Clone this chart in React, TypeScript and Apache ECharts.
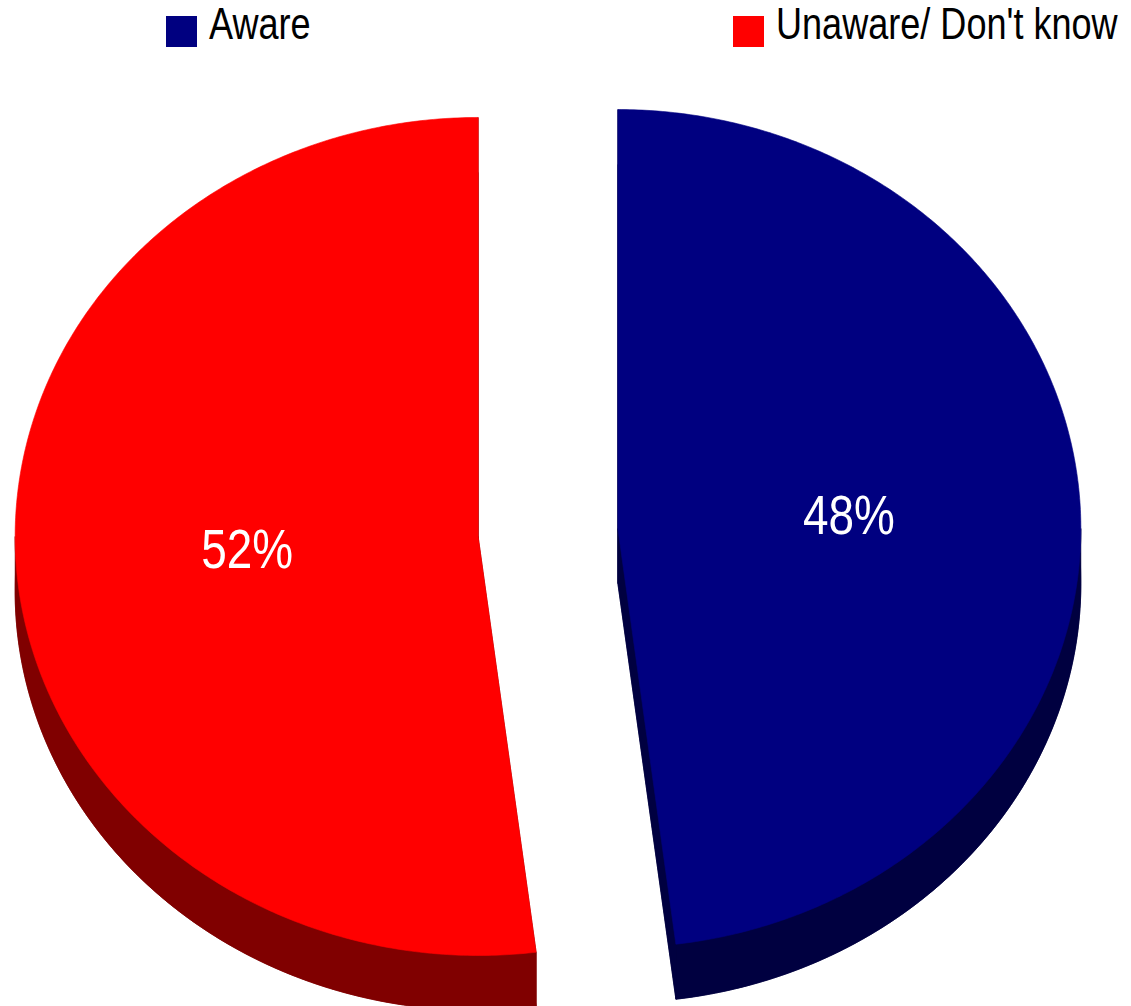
import { useEffect, useRef } from "react";
import * as echarts from "echarts";

const categories = ["Aware", "Unaware/ Don't know"];
const values = [48, 52];
const topColors = ["#000080", "#FF0000"];
const sideColors = ["#000040", "#800000"];

const FONT = "'Liberation Sans Narrow', 'Arial Narrow', 'Liberation Sans', Arial, sans-serif";
const NARROW = 0.82;

export default function App() {
  const ref = useRef<HTMLDivElement>(null);
  useEffect(() => {
    const chart = echarts.init(ref.current!, null, { renderer: "svg" });
    const total = values.reduce((a, b) => a + b, 0);
    const starts: number[] = [];
    let acc = 0;
    values.forEach((v) => {
      starts.push((acc / total) * 360);
      acc += v;
    });
    const CX = 548, CY = 532.5, RX = 463, RY = 419, DEPTH = 55, EXPLODE = 70;

    const makeRender = (i: number) => (_params: any, api: any) => {
      const v = api.value(0) as number;
      const a0 = starts[i];
      const a1 = a0 + (v / total) * 360;
      const mid = (((a0 + a1) / 2) * Math.PI) / 180;
      const k = RY / RX;
      const cx = CX + EXPLODE * Math.sin(mid);
      const cy = CY - EXPLODE * Math.cos(mid) * k;
      const pt = (deg: number, dy = 0, f = 1) => {
        const r = (deg * Math.PI) / 180;
        return [cx + f * RX * Math.sin(r), cy - f * RY * Math.cos(r) + dy];
      };
      const arc = (from: number, to: number, dy: number) => {
        const n = Math.max(2, Math.ceil(Math.abs(to - from) / 0.5));
        const out: number[][] = [];
        for (let j = 0; j <= n; j++) out.push(pt(from + ((to - from) * j) / n, dy));
        return out;
      };
      const side = sideColors[i];
      const top = topColors[i];
      const children: any[] = [];
      const poly = (points: number[][], fill: string) => ({
        type: "polygon",
        shape: { points },
        style: { fill, stroke: fill, lineWidth: 0.6 },
      });
      // extruded body
      children.push(poly([[cx, cy + DEPTH], ...arc(a0, a1, DEPTH)], side));
      const lo = Math.max(a0, 90), hi = Math.min(a1, 270);
      if (hi > lo) {
        children.push(poly([...arc(lo, hi, 0), ...arc(lo, hi, DEPTH).reverse()], side));
      }
      [a0, a1].forEach((a) => {
        const p = pt(a);
        children.push(poly([[cx, cy], p, [p[0], p[1] + DEPTH], [cx, cy + DEPTH]], side));
      });
      // top surface
      children.push(poly([[cx, cy], ...arc(a0, a1, 0)], top));
      // label
      const lp = pt((a0 + a1) / 2, 0, 0.5);
      children.push({
        type: "text",
        x: lp[0],
        y: lp[1] - 1,
        scaleX: NARROW,
        style: {
          text: Math.round((v / total) * 100) + "%",
          fill: "#FFFFFF",
          fontSize: 56,
          fontFamily: FONT,
          align: "center",
          verticalAlign: "middle",
        },
      });
      return { type: "group", children };
    };

    const legendX = [166, 733];
    const legendGraphics: any[] = [];
    categories.forEach((name, i) => {
      legendGraphics.push({
        type: "rect",
        left: legendX[i],
        top: 16,
        shape: { width: 31, height: 31 },
        style: { fill: topColors[i] },
        silent: true,
      });
      legendGraphics.push({
        type: "text",
        x: legendX[i] + 43,
        y: 24,
        scaleX: NARROW,
        silent: true,
        style: {
          text: name,
          fill: "#000000",
          fontSize: 44,
          fontFamily: FONT,
          align: "left",
          verticalAlign: "middle",
        },
      });
    });

    chart.setOption({
      animation: false,
      backgroundColor: "#FFFFFF",
      graphic: legendGraphics,
      series: categories.map((name, i) => ({
        type: "custom",
        name,
        coordinateSystem: "none",
        silent: true,
        itemStyle: { color: topColors[i] },
        renderItem: makeRender(i),
        data: [values[i]],
      })),
    });
    return () => chart.dispose();
  }, []);
  return (
    <div
      ref={ref}
      style={{ position: "fixed", left: 0, top: 0, width: 1131, height: 1006 }}
    />
  );
}
